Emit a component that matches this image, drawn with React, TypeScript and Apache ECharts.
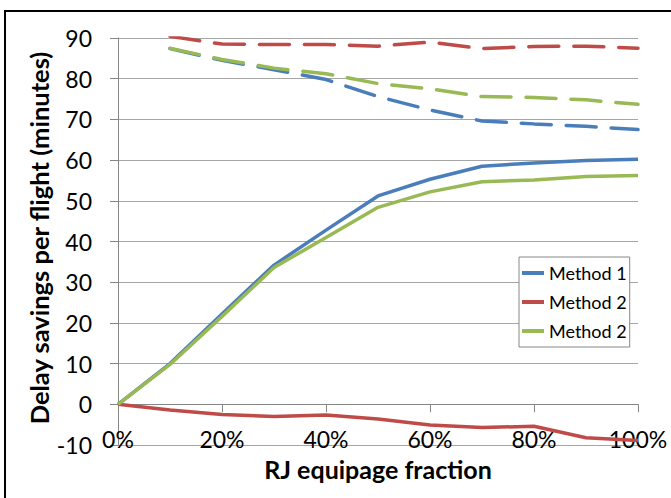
import React, { useEffect, useRef } from "react";
import * as echarts from "echarts";

const categories = ["0%", "10%", "20%", "30%", "40%", "50%", "60%", "70%", "80%", "90%", "100%"];
const yTicks = { min: -10, max: 90, interval: 10 };

const method1Solid = [0, 10, 22.2, 34.2, 42.8, 51.2, 55.3, 58.5, 59.3, 59.9, 60.2];
const method2RedSolid = [0, -1.4, -2.5, -3.0, -2.6, -3.6, -5.1, -5.7, -5.4, -8.2, -8.9];
const method2GreenSolid = [0, 9.8, 21.6, 33.6, 41.0, 48.4, 52.2, 54.7, 55.1, 56.0, 56.2];

const method1Dashed = [null, 87.4, 84.5, 82.2, 79.8, 75.6, 72.3, 69.6, 68.9, 68.3, 67.5];
const method2RedDashed = [null, 90.4, 88.5, 88.4, 88.4, 88.0, 89.0, 87.4, 87.9, 88.0, 87.5];
const method2GreenDashed = [null, 87.5, 84.7, 82.6, 81.2, 78.8, 77.5, 75.6, 75.4, 74.8, 73.7];

const legendNames = ["Method 1", "Method 2", "Method 2"];
const xTitle = "RJ equipage fraction";
const yTitle = "Delay savings per flight (minutes)";

const BLUE = "#4A7EBB";
const RED = "#BE4B48";
const GREEN = "#98B954";
const FONT = "Lato";

export default function App() {
  const ref = useRef<HTMLDivElement>(null);
  useEffect(() => {
    if (!ref.current) return;
    const chart = echarts.init(ref.current, null, { renderer: "svg" });
    const seriesIds = ["s1", "s2", "s3"];
    const solid = (id: string, data: (number | null)[], color: string) => ({
      type: "line",
      name: id,
      data,
      xAxisIndex: 0,
      yAxisIndex: 0,
      symbol: "none",
      lineStyle: { color, width: 3.5 },
      itemStyle: { color },
    });
    const dashed = (id: string, data: (number | null)[], color: string) => ({
      type: "line",
      name: id,
      data,
      xAxisIndex: 0,
      yAxisIndex: 0,
      symbol: "none",
      lineStyle: { color, width: 3.5, type: [30, 15], cap: "round" },
      itemStyle: { color },
    });
    chart.setOption({
      animation: false,
      backgroundColor: "#ffffff",
      grid: { left: 118, right: 33, top: 38, bottom: 53, containLabel: false },
      legend: {
        data: seriesIds,
        formatter: (n: string) => legendNames[seriesIds.indexOf(n)],
        orient: "vertical",
        left: 519,
        top: 257,
        padding: [7, 3, 7, 3],
        icon: "rect",
        itemWidth: 22,
        itemHeight: 4,
        itemGap: 11,
        borderColor: "#888888",
        borderWidth: 1,
        backgroundColor: "#ffffff",
        textStyle: { fontFamily: FONT, fontSize: 18, color: "#000", lineHeight: 18 },
      },
      xAxis: [
        {
          type: "category",
          data: categories,
          boundaryGap: false,
          position: "bottom",
          axisLine: { show: false, onZero: false },
          axisTick: { show: false },
          splitLine: { show: false },
          axisLabel: {
            interval: 1,
            margin: -6,
            verticalAlign: "middle",
            fontFamily: FONT,
            fontSize: 23,
            color: "#000",
          },
        },
        {
          type: "category",
          data: categories,
          boundaryGap: false,
          position: "top",
          axisLine: { show: true, onZero: true, lineStyle: { color: "#868686", width: 1 } },
          axisTick: { show: true, inside: true, length: 8, interval: 1, lineStyle: { color: "#868686" } },
          axisLabel: { show: false },
          splitLine: { show: false },
        },
      ],
      yAxis: {
        type: "value",
        min: yTicks.min,
        max: yTicks.max,
        interval: yTicks.interval,
        axisLine: { show: true, lineStyle: { color: "#868686", width: 1 } },
        axisTick: { show: true, length: 8, lineStyle: { color: "#868686" } },
        splitLine: { show: true, lineStyle: { color: "#A6A6A6", width: 1 } },
        axisLabel: { margin: 26, fontFamily: FONT, fontSize: 23, color: "#000" },
      },
      graphic: [
        {
          type: "rect",
          shape: { x: 5, y: 11, width: 700, height: 520 },
          style: { fill: "none", stroke: "#000", lineWidth: 2 },
          silent: true,
        },
        {
          type: "text",
          x: 378,
          y: 469,
          style: {
            text: xTitle,
            fontFamily: FONT,
            fontWeight: "bold",
            fontSize: 25,
            fill: "#000",
            textAlign: "center",
            textVerticalAlign: "middle",
          },
        },
        {
          type: "text",
          x: 39,
          y: 238,
          rotation: Math.PI / 2,
          style: {
            text: yTitle,
            fontFamily: FONT,
            fontWeight: "bold",
            fontSize: 25.5,
            fill: "#000",
            textAlign: "center",
            textVerticalAlign: "middle",
          },
        },
      ],
      series: [
        solid("s1", method1Solid, BLUE),
        solid("s2", method2RedSolid, RED),
        solid("s3", method2GreenSolid, GREEN),
        dashed("d1", method1Dashed, BLUE),
        dashed("d2", method2RedDashed, RED),
        dashed("d3", method2GreenDashed, GREEN),
      ],
    });
    return () => chart.dispose();
  }, []);
  return (
    <div
      ref={ref}
      style={{ position: "fixed", left: 0, top: 0, width: 671, height: 498 }}
    />
  );
}
